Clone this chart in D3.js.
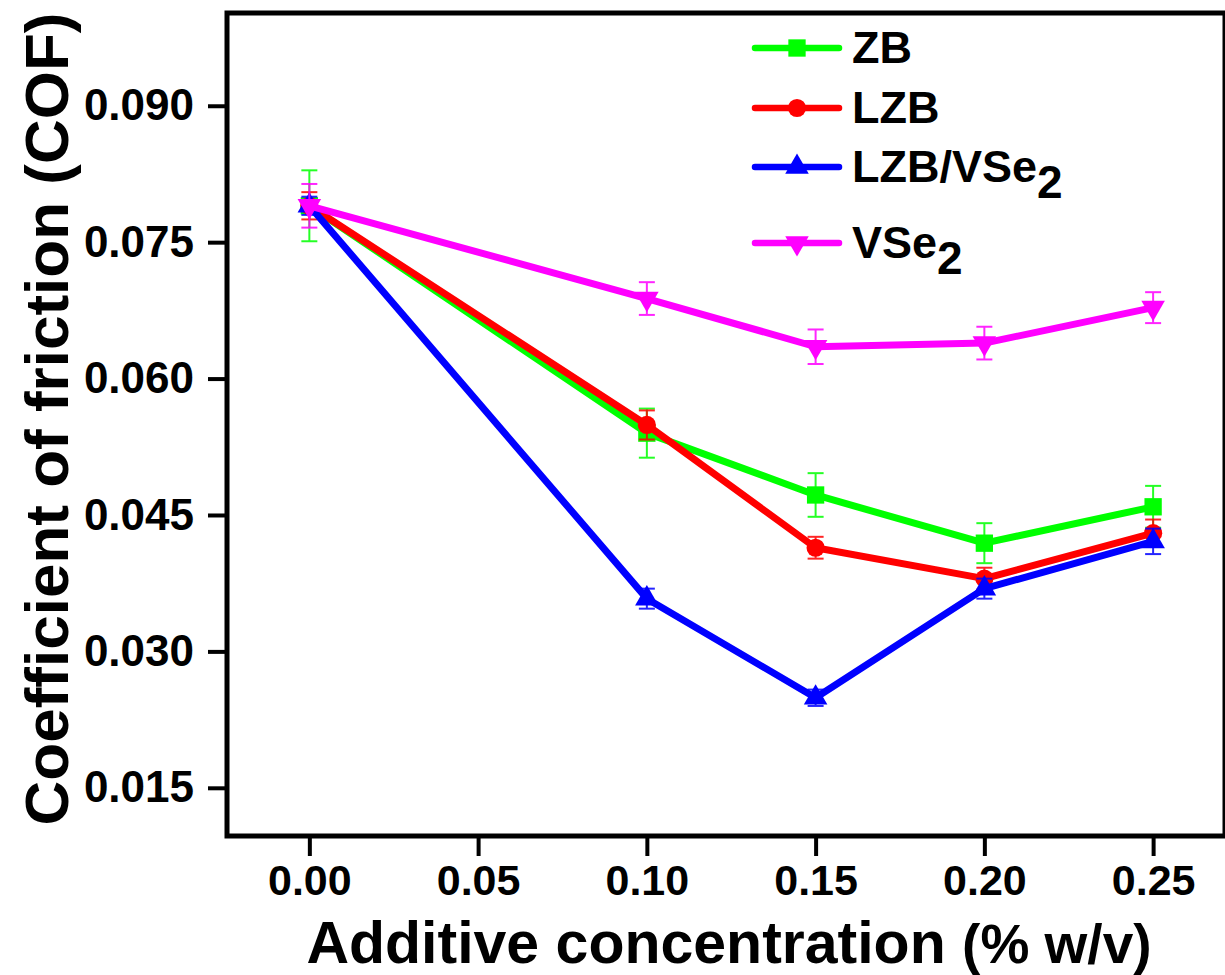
<!DOCTYPE html>
<html>
<head>
<meta charset="utf-8">
<script src="https://cdn.jsdelivr.net/npm/d3@7"></script>
<style>
  html, body { margin: 0; padding: 0; background: #fff; }
  svg { display: block; }
  text { font-family: "Liberation Sans", Arial, sans-serif; font-weight: bold; }
</style>
</head>
<body>
<script>
// concentrations (% w/v)
const concentrations = [0, 0.10, 0.15, 0.20, 0.25];

// COF values
const zbValues = [0.079, 0.0540, 0.0472, 0.0419, 0.0459];
const zbErrors = [0.0039, 0.0027, 0.0024, 0.0022, 0.0023];
const lzbValues = [0.079, 0.0549, 0.0414, 0.0380, 0.0430];
const lzbErrors = [0.0015, 0.0016, 0.0012, 0.0012, 0.0015];
const lzbVse2Values = [0.079, 0.0358, 0.0249, 0.0369, 0.0421];
const lzbVse2Errors = [0.0010, 0.0011, 0.0009, 0.0011, 0.0014];
const vse2Values = [0.079, 0.0688, 0.0635, 0.0639, 0.0678];
const vse2Errors = [0.0024, 0.0018, 0.0019, 0.0018, 0.0017];

const seriesNames = ["ZB", "LZB", "LZB/VSe2", "VSe2"];
const xTicks = [0, 0.05, 0.10, 0.15, 0.20, 0.25];
const yTicks = [0.015, 0.030, 0.045, 0.060, 0.075, 0.090];

const width = 1225;
const height = 975;
const frame = { left: 227, right: 1225, top: 13, bottom: 836 };

const series = [
  { name: seriesNames[0], values: zbValues, errors: zbErrors, color: "#00ff00", symbol: d3.symbolSquare, size: 300 },
  { name: seriesNames[1], values: lzbValues, errors: lzbErrors, color: "#ff0000", symbol: d3.symbolCircle, size: 260 },
  { name: seriesNames[2], values: lzbVse2Values, errors: lzbVse2Errors, color: "#0000ff", symbol: d3.symbolTriangle, size: 240, flip: false },
  { name: seriesNames[3], values: vse2Values, errors: vse2Errors, color: "#ff00ff", symbol: d3.symbolTriangle, size: 240, flip: true }
];

const svg = d3.select("body")
  .append("svg")
  .attr("width", width)
  .attr("height", height);

const x = d3.scaleLinear()
  .domain([-0.0244, 0.2713])
  .range([frame.left, frame.right]);

const y = d3.scaleLinear()
  .domain([0.0097, 0.1002])
  .range([frame.bottom, frame.top]);

// axes
const xAxis = svg.append("g")
  .attr("transform", `translate(0,${frame.bottom})`)
  .call(d3.axisBottom(x).tickValues(xTicks).tickFormat(d3.format(".2f")).tickSize(20).tickPadding(8).tickSizeOuter(0));

const yAxis = svg.append("g")
  .attr("transform", `translate(${frame.left},0)`)
  .call(d3.axisLeft(y).tickValues(yTicks).tickFormat(d3.format(".3f")).tickSize(19).tickPadding(14).tickSizeOuter(0));

[xAxis, yAxis].forEach(g => {
  g.select(".domain").remove();
  g.selectAll(".tick line").attr("stroke", "#000").attr("stroke-width", 4);
  g.selectAll(".tick text").attr("fill", "#000").style("font-size", "44px");
});
xAxis.selectAll(".tick text").style("font-size", "43px");

// frame
svg.append("rect")
  .attr("x", frame.left)
  .attr("y", frame.top)
  .attr("width", frame.right - frame.left)
  .attr("height", frame.bottom - frame.top)
  .attr("fill", "none")
  .attr("stroke", "#000")
  .attr("stroke-width", 5);

// axis titles
const xTitle = svg.append("text")
  .attr("x", (283 + 1175) / 2)
  .attr("y", 963)
  .attr("text-anchor", "middle")
  .style("font-size", "59px");
xTitle.append("tspan").text("Additive concentration ");
xTitle.append("tspan").style("font-size", "55px").text("(% w/v)");

svg.append("text")
  .attr("transform", `translate(68,419) rotate(-90)`)
  .attr("text-anchor", "middle")
  .style("font-size", "62px")
  .text("Coefficient of friction (COF)");

const line = d3.line()
  .x((d, i) => x(concentrations[i]))
  .y(d => y(d));

const plot = svg.append("g");

series.forEach(s => {
  const g = plot.append("g");

  g.append("path")
    .datum(s.values)
    .attr("d", line)
    .attr("fill", "none")
    .attr("stroke", s.color)
    .attr("stroke-width", 7)
    .attr("stroke-linejoin", "round");

  g.selectAll(".marker")
    .data(s.values)
    .enter()
    .append("path")
    .attr("class", "marker")
    .attr("d", d3.symbol().type(s.symbol).size(s.size))
    .attr("transform", (d, i) => `translate(${x(concentrations[i])},${y(d)})` + (s.flip ? " rotate(180)" : ""))
    .attr("fill", s.color);

  // error bars
  const eb = g.selectAll(".err")
    .data(s.values)
    .enter()
    .append("g")
    .attr("stroke", s.color)
    .attr("stroke-width", 2)
    .attr("opacity", 0.85);

  eb.append("line")
    .attr("x1", (d, i) => x(concentrations[i]))
    .attr("x2", (d, i) => x(concentrations[i]))
    .attr("y1", (d, i) => y(d - s.errors[i]))
    .attr("y2", (d, i) => y(d + s.errors[i]));

  [-1, 1].forEach(sign => {
    eb.append("line")
      .attr("x1", (d, i) => x(concentrations[i]) - 8)
      .attr("x2", (d, i) => x(concentrations[i]) + 8)
      .attr("y1", (d, i) => y(d + sign * s.errors[i]))
      .attr("y2", (d, i) => y(d + sign * s.errors[i]));
  });
});

// legend
const legendY = [48, 108, 167, 243];
const legend = svg.append("g");

series.forEach((s, i) => {
  const row = legend.append("g").attr("transform", `translate(0,${legendY[i]})`);
  row.append("line")
    .attr("x1", 755).attr("x2", 839)
    .attr("y1", 0).attr("y2", 0)
    .attr("stroke", s.color)
    .attr("stroke-width", 6.5)
    .attr("stroke-linecap", "round");
  row.append("path")
    .attr("d", d3.symbol().type(s.symbol).size(s.size))
    .attr("transform", "translate(797,0)" + (s.flip ? " rotate(180)" : ""))
    .attr("fill", s.color);

  const label = row.append("text")
    .attr("x", 852)
    .attr("y", 15)
    .style("font-size", "45px");
  const m = s.name.match(/^(.*?)(\d)$/);
  if (m) {
    label.append("tspan").text(m[1]);
    label.append("tspan").attr("dy", 16).style("font-size", "46px").text(m[2]);
  } else {
    label.text(s.name);
  }
});
</script>
</body>
</html>
